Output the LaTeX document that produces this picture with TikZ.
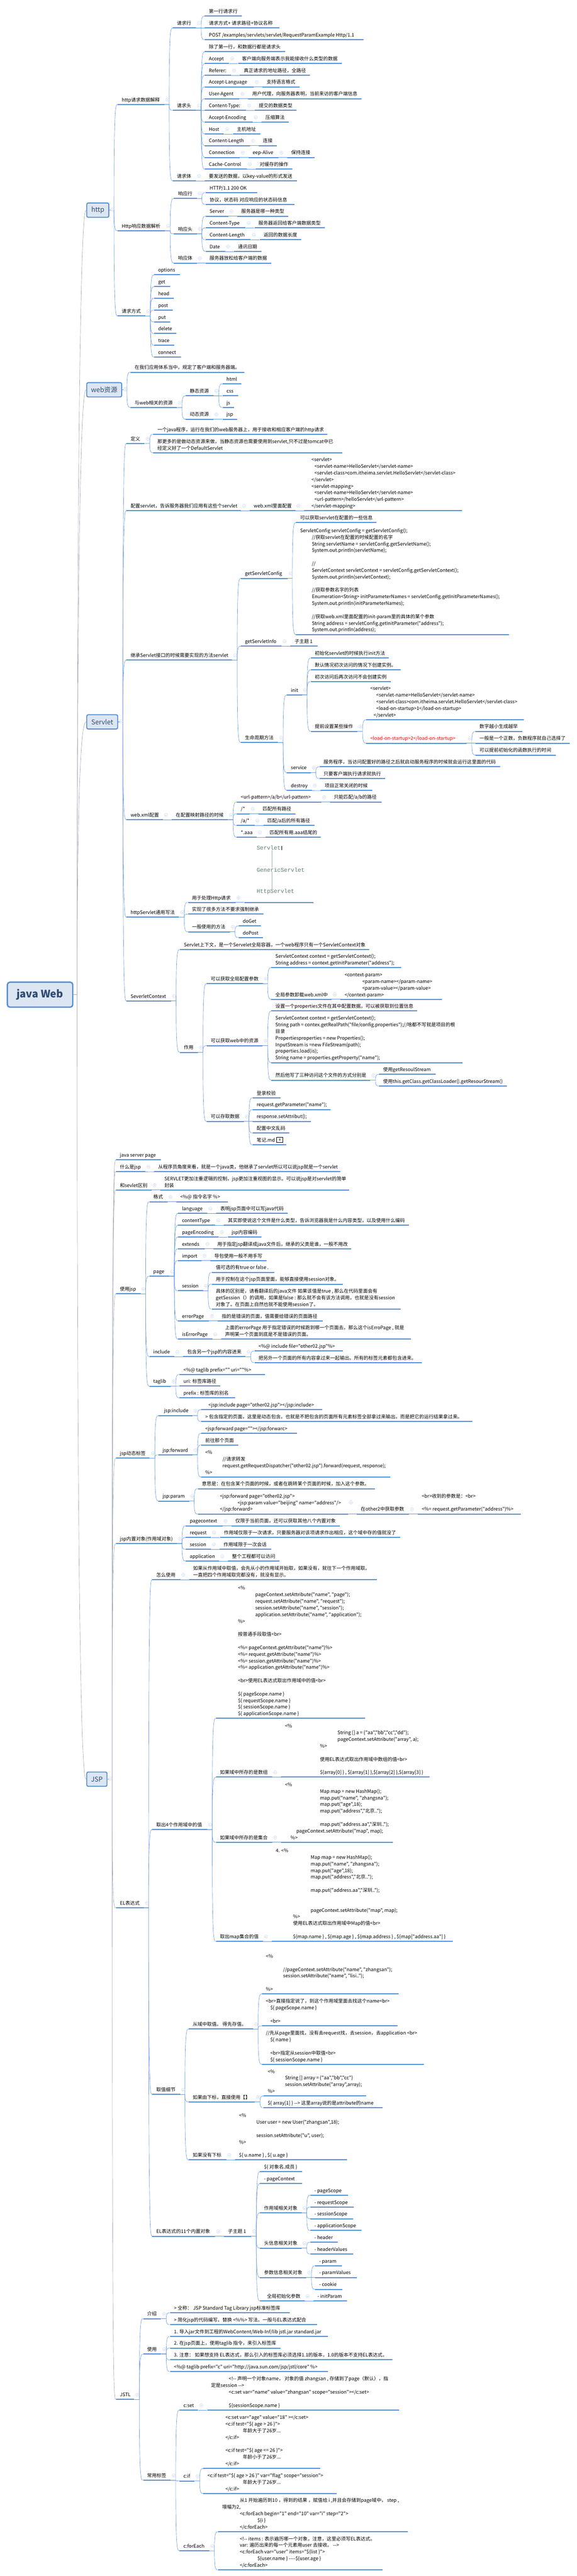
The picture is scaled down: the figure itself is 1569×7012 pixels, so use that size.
\documentclass[tikz,border=0pt]{standalone}
\usepackage{fontspec}
\newfontfamily\cjk{Noto Sans CJK SC}
\newfontfamily\monof{Liberation Mono}
\definecolor{barblue}{HTML}{558ED5}
\definecolor{linkblue}{HTML}{6A9BE0}
\definecolor{linkgrey}{HTML}{A3A9B5}
\definecolor{boxfill}{HTML}{DCE6F2}
\definecolor{boxtext}{HTML}{2F4B73}
\definecolor{foldc}{HTML}{C3D2EF}
\definecolor{imgtext}{HTML}{5E7D6B}
\tikzset{
  topicbar/.style={fill=barblue,inner sep=0pt,minimum height=2.8pt},
  topictext/.style={inner sep=0pt,font=\cjk\fontsize{13}{18}\selectfont,text=black},
  link/.style={draw=linkblue,line width=0.9pt},
  linkg/.style={draw=linkgrey,line width=0.9pt},
  l1box/.style={draw=barblue,fill=boxfill,line width=2.6pt,rounded corners=4pt,inner sep=0pt,text=boxtext,font=\cjk\fontsize{18}{22}\selectfont},
  rootbox/.style={draw=barblue,fill=boxfill,line width=3.6pt,rounded corners=7pt,inner sep=0pt,text=boxtext,font=\cjk\bfseries\fontsize{28}{32}\selectfont},
  foldicon/.style={circle,draw=foldc,fill=white,line width=0.7pt,minimum size=9pt,inner sep=0pt,
    path picture={\draw[foldc,line width=0.7pt] ([xshift=2.5pt]path picture bounding box.west) -- ([xshift=-2.5pt]path picture bounding box.east);}},
  imgt/.style={inner sep=0pt,anchor=west,font=\monof\fontsize{15.5}{18}\selectfont,text=imgtext},
}
\def\zoff{0}\def\zk{0.38265}\def\gap{10pt}
\newcommand\Zc[2]{\def\zoff{#1}\def\zk{#2}}
\newcommand\Ind[1]{\hspace*{#1pt}}
\newcommand\Tn[5]{%
  \pgfmathsetmacro\ty{-(\zoff+#4*\zk)}%
  \pgfmathsetmacro\tw{#3-#2}%
  \node[topicbar,minimum width=\tw pt,anchor=west] (#1) at (#2,\ty) {};
  \node[topictext,anchor=base west] (#1-t) at (#2+11,\ty+8) {\begin{tabular}[b]{@{}l@{}}#5\end{tabular}};
}
\newcommand\Cn[3][link]{%
  \foreach \cc in {#3}{%
    \draw[#1] (#2.east) -- ([xshift=-\gap]\cc.west |- #2.east) .. controls ([xshift=-\gap]\cc.west) and ([xshift=-6pt]\cc.west) .. (\cc.west);
  }%
  \node[foldicon] (#2-i) at ([xshift=8pt,yshift=1.4pt]#2.east |- #2-t.center) {};
}
\begin{document}
\begin{tikzpicture}[x=1pt,y=1pt]
\path[fill=white,use as bounding box] (0,0) rectangle (1569,-7012);

% first levels
\node[rootbox,minimum width=178pt,minimum height=68pt] (root) at (109,-2707.5) {java Web};
\node[l1box,minimum width=60pt,minimum height=39pt] (http) at (266,-572) {http};
\coordinate (http-t) at (http.center);
\node[l1box,minimum width=95pt,minimum height=39pt] (web) at (283.5,-1061) {web资源};
\coordinate (web-t) at (web.center);
\node[l1box,minimum width=84pt,minimum height=39pt] (srv) at (278,-1965) {Servlet};
\coordinate (srv-t) at (srv.center);
\node[l1box,minimum width=55pt,minimum height=39pt] (jsp) at (263.5,-4843) {JSP};
\coordinate (jsp-t) at (jsp.center);

% ---------- crop 1
\Zc{0}{0.38265}
\Tn{ha}{320}{447}{743}{http请求数据解释}
\Tn{reql}{470}{533}{199}{请求行}
\Tn{reqh}{470}{533}{785}{请求头}
\Tn{reqb}{470}{533}{1287}{请求体}
\Tn{rl1}{557}{658}{115}{第一行请求行}
\Tn{rl2}{557}{760}{199}{请求方式+ 请求路径+协议名称}
\Tn{rl3}{557}{988}{283}{POST  /examples/servlets/servlet/RequestParamExample  Http/1.1}
\Tn{rh0}{557}{775}{367}{除了第一行，和数据行都是请求头}
\Tn{rh1}{557}{623}{451}{Accept}
\Tn{rh1a}{647}{929}{451}{客户端向服务端表示我能接收什么类型的数据}
\Tn{rh2}{557}{628}{535}{Referer:}
\Tn{rh2a}{652}{843}{535}{真正请求的地址路径，全路径}
\Tn{rh3}{557}{690}{618}{Accept-Language}
\Tn{rh3a}{714}{814}{618}{支持语言格式}
\Tn{rh4}{557}{651}{702}{User-Agent}
\Tn{rh4a}{675}{983}{702}{用户代理，向服务器表明，当前来访的客户端信息}
\Tn{rh5}{557}{669}{786}{Content-Type:}
\Tn{rh5a}{693}{806}{786}{提交的数据类型}
\Tn{rh6}{557}{687}{869}{Accept-Encoding}
\Tn{rh6a}{711}{785}{869}{压缩算法}
\Tn{rh7}{557}{609}{953}{Host}
\Tn{rh7a}{633}{708}{953}{主机地址}
\Tn{rh8}{557}{680}{1036}{Content-Length}
\Tn{rh8a}{704}{753}{1036}{连接}
\Tn{rh9}{557}{652}{1120}{Connection}
\Tn{rh9a}{676}{757}{1120}{eep-Alive}
\Tn{rh9b}{781}{855}{1120}{保持连接}
\Tn{rh10}{557}{671}{1203}{Cache-Control}
\Tn{rh10a}{695}{795}{1203}{对缓存的操作}
\Tn{rb1}{557}{807}{1287}{要发送的数据，以key-value的形式发送}
\Tn{resl}{473}{535}{1412}{响应行}
\Tn{rsl1}{559}{699}{1370}{HTTP/1.1  200  OK}
\Tn{rsl2}{559}{801}{1454}{协议，状态码  对应响应的状态码信息}
\Tn{rs1}{559}{621}{1538}{Server}
\Tn{rs1a}{645}{784}{1538}{服务器是哪一种类型}

% ---------- crop 2
\Zc{600}{0.38265}
\Tn{hb}{320}{449}{74}{Http响应数据解析}
\Tn{resh}{473}{535}{95}{响应头}
\Tn{resb}{473}{535}{303}{响应体}
\Tn{rs2}{559}{668}{53}{Content-Type}
\Tn{rs2a}{692}{883}{53}{服务器返回给客户端数据类型}
\Tn{rs3}{559}{682}{137}{Content-Length}
\Tn{rs3a}{706}{819}{137}{返回的数据长度}
\Tn{rs4}{559}{612}{220}{Date}
\Tn{rs4a}{636}{711}{220}{通讯日期}
\Tn{rb2}{559}{738}{303}{服务器放松给客户端的数据}
\Tn{hc}{320}{395}{680}{请求方式}
\Tn{m1}{419}{489}{387}{options}
\Tn{m2}{419}{462}{471}{get}
\Tn{m3}{419}{473}{554}{head}
\Tn{m4}{419}{469}{638}{post}
\Tn{m5}{419}{463}{722}{put}
\Tn{m6}{419}{480}{805}{delete}
\Tn{m7}{419}{474}{889}{trace}
\Tn{m8}{419}{492}{973}{connect}
\Tn{wa}{355}{664}{1080}{在我们应用体系当中，规定了客户端和服务器端。}
\Tn{wb}{355}{481}{1331}{与web相关的资源}
\Tn{ws}{505}{580}{1247}{静态资源}
\Tn{wd}{505}{580}{1414}{动态资源}
\Tn{w1}{605}{656}{1163}{html}
\Tn{w2}{605}{647}{1247}{css}
\Tn{w3}{605}{637}{1331}{js}
\Tn{w4}{605}{645}{1414}{jsp}
\Tn{d1}{417}{891}{1521}{一个java程序，运行在我们的web服务器上，用于接收和相应客户端的http请求}

% ---------- crop 3
\Zc{1200}{0.38265}
\Tn{sdef}{344}{393}{19}{定义}
\Tn{d2}{417}{931}{85}{那更多的是做动态资源来做，当静态资源也需要使用到servlet,只不过是tomcat中已\\经定义好了一个DefaultServlet}
\Tn{scfg}{344}{655}{497}{配置servlet，告诉服务器我们应用有这些个servlet}
\Tn{sxml}{679}{803}{497}{web.xml里面配置}
\Tn{sxc}{827}{1256}{497}{\Ind{9}<servlet>\\\Ind{17}<servlet-name>HelloServlet</servlet-name>\\\Ind{17}<servlet-class>com.itheima.servlet.HelloServlet</servlet-class>\\\Ind{9}</servlet>\\\Ind{9}<servlet-mapping>\\\Ind{17}<servlet-name>HelloServlet</servlet-name>\\\Ind{17}<url-pattern>/helloServlet</url-pattern>\\\Ind{9}</servlet-mapping>}
\Tn{simp}{344}{631}{1560}{继承Servlet接口的时候需要实现的方法servlet}
\Tn{gsc}{655}{782}{978}{getServletConfig}
\Tn{gsc1}{805}{1024}{581}{可以获取servlet在配置的一些信息}
\Tn{gsc2}{805}{1384}{1378}{ServletConfig servletConfig = getServletConfig();\\\Ind{32}//获取servlet在配置的时候配置的名字\\\Ind{32}String servletName = servletConfig.getServletName();\\\Ind{32}System.out.println(servletName);\\ \\\Ind{32}//\\\Ind{32}ServletContext servletContext = servletConfig.getServletContext();\\\Ind{32}System.out.println(servletContext);\\ \\\Ind{32}//获取参数名字的列表\\\Ind{32}Enumeration<String> initParameterNames = servletConfig.getInitParameterNames();\\\Ind{32}System.out.println(initParameterNames);\\ \\\Ind{32}//获取web.xml里面配置的init-param里的具体的某个参数\\\Ind{32}String address = servletConfig.getInitParameter("address");\\\Ind{32}System.out.println(address);}
\Tn{gsi}{655}{766}{1461}{getServletInfo}
\Tn{gsi1}{790}{863}{1461}{子主题 1}
\Tn{in1}{845}{1057}{1545}{初始化servlet的时候执行init方法}

% ---------- crop 4
\Zc{1800}{0.38265}
\Tn{life}{655}{756}{578}{生命周期方法}
\Tn{init}{780}{821}{239}{init}
\Tn{in2}{845}{1089}{61}{默认情况初次访问的情况下创建实例。}
\Tn{in3}{845}{1063}{145}{初次访问后再次访问不会创建实例}
\Tn{in4}{845}{972}{499}{提前设置某些操作}
\Tn{in4a}{996}{1425}{416}{<servlet>\\\Ind{16}<servlet-name>HelloServlet</servlet-name>\\\Ind{16}<servlet-class>com.itheima.servlet.HelloServlet</servlet-class>\\\Ind{16}<load-on-startup>1</load-on-startup>\\\Ind{9}</servlet>}
\Tn{in4b}{996}{1269}{583}{\textcolor{red}{<load-on-startup>2</load-on-startup>}}
\Tn{los1}{1293}{1420}{499}{数字越小生成越早}
\Tn{los2}{1293}{1550}{583}{一般是一个正数，负数程序就自己选择了}
\Tn{los3}{1293}{1511}{667}{可以提前初始化的函数执行的时间}
\Tn{svc}{780}{845}{792}{service}
\Tn{svc1}{869}{1360}{750}{服务程序，当访问配置好的路径之后就启动服务程序的时候就会运行这里面的代码}
\Tn{svc2}{869}{1048}{834}{只要客户端执行请求就执行}
\Tn{des}{780}{848}{918}{destroy}
\Tn{des1}{872}{1012}{918}{项目正常关闭的时候}
\Tn{sw}{344}{443}{1127}{web.xml配置}
\Tn{swm}{467}{620}{1127}{在配置映射路径的时候}
\Tn{up1}{644}{873}{1001}{<url-pattern>/a/b</url-pattern>}
\Tn{up1a}{897}{1038}{1001}{只能匹配/a/b的路径}
\Tn{up2}{644}{679}{1085}{/*}
\Tn{up2a}{703}{803}{1085}{匹配所有路径}
\Tn{up3}{644}{692}{1168}{/a/*}
\Tn{up3a}{716}{855}{1168}{匹配/a后的所有路径}
\Tn{up4}{644}{698}{1252}{*.aaa}
\Tn{up4a}{722}{872}{1252}{匹配所有用.aaa结尾的}
% picture above the "httpServlet" branch
\node[imgt] (img1) at (698,-2308) {Servlet};
\node[imgt] (img2) at (698,-2367.5) {GenericServlet};

% ---------- crop 5
\Zc{2400}{0.38265}
\node[imgt] (img3) at (698,-2427) {HttpServlet};
\Tn{shs}{344}{487}{252}{httpServlet通用写法}
\Tn{shs1}{511}{640}{148}{用于处理Http请求}
\Tn{shs1a}{664}{853}{148}{\mbox{}}
\Tn{shs2}{511}{716}{231}{实现了很多方法不要求强制继承}
\Tn{shs3}{511}{625}{356}{一般使用的方法}
\Tn{dog}{649}{710}{315}{doGet}
\Tn{dop}{649}{715}{398}{doPost}
\Tn{sc}{344}{465}{848}{SeverletContext}
\Tn{sc1}{489}{1004}{482}{Servlet上下文，是一个Servelet全局容器，一个web程序只有一个ServletContext对象}
\Tn{sc2}{489}{538}{1214}{作用}
\Tn{ga}{562}{715}{725}{可以获取全局配置参数}
\Tn{gb}{562}{714}{1166}{可以获取web中的资源}
\Tn{ga1}{738}{1091}{612}{ServletContext context = getServletContext();\\String address = context.getInitParameter("address");}
\Tn{ga2}{738}{902}{837}{全局参数卸载web.xml中}
\Tn{ga2a}{926}{1201}{837}{<context-param>\\\Ind{48}<param-name></param-name>\\\Ind{48}<param-value></param-value>\\</context-param>}
\Tn{gb1}{738}{1134}{920}{设置一个properties文件在其中配置数据，可以被获取到位置信息}
\Tn{gb2}{738}{1258}{1287}{ServletContext context = getServletContext();\\String path = contex.getRealPath("file/config.properties");//啥都不写就是项目的根\\目录\\Propertiesproperties = new Properties();\\InputStream  is  =new FileStream(path);\\properties.load(is);\\String name = properties.getProperty("name");}
\Tn{gb3}{738}{1007}{1412}{然后他写了三种访问这个文件的方式分别是}
\Tn{gb3a}{1031}{1185}{1370}{使用getResoulStream}
\Tn{gb3b}{1031}{1378}{1454}{使用this.getClass.getClassLoader().getResourStream()}
\Tn{gc1}{687}{762}{1537}{登录校验}

% ---------- crop 6
\Zc{3000}{0.38265}
\Tn{gc}{562}{663}{137}{可以存取数据}
\Tn{gc2}{687}{899}{53}{request.getParameter("name");}
\Tn{gc3}{687}{845}{137}{response.setAttribut();}
\Tn{gc4}{687}{787}{220}{配置中文乱码}
\Tn{gc5}{687}{778}{304}{笔记.md}
\node[draw=black,fill=white,line width=0.8pt,minimum width=17pt,minimum height=14pt,inner sep=0pt] (gc5icon) at (761,-3102) {};
\node[fill=black!45,minimum width=4pt,minimum height=6pt,inner sep=0pt] (gc5glyph) at (gc5icon.center) {};
\Tn{j1}{315}{438}{411}{java server page}
\Tn{j2}{315}{395}{494}{什么是jsp}
\Tn{j2a}{419}{926}{494}{从程序员角度来看，就是一个java类，他继承了servlet所以可以说jsp就是一个servlet}
\Tn{j3}{315}{412}{625}{和sevlet区别}
\Tn{j3a}{436}{949}{625}{SERVLET更加注重逻辑的控制，jsp更加注重视图的显示。可以说jsp是对servlet的简单\\封装}
\Tn{j4}{315}{382}{1364}{使用jsp}
\Tn{fm}{406}{455}{709}{格式}
\Tn{fma}{479}{619}{709}{<\%@ 指令名字 \%>}
\Tn{pg}{406}{460}{1239}{page}
\Tn{p1}{484}{564}{792}{language}
\Tn{p1a}{588}{782}{792}{表明jsp页面中可以写java代码}
\Tn{p2}{484}{585}{876}{contentType}
\Tn{p2a}{609}{1112}{876}{其实即使说这个文件是什么类型，告诉浏览器我是什么内容类型，以及使用什么编码}
\Tn{p3}{484}{595}{959}{pageEncoding}
\Tn{p3a}{619}{711}{959}{jsp内容编码}
\Tn{p4}{484}{556}{1043}{extends}
\Tn{p4a}{580}{955}{1043}{用于指定jsp翻译成java文件后，继承的父类是谁，一般不用改}
\Tn{p5}{484}{548}{1127}{import}
\Tn{p5a}{572}{725}{1127}{导包使用一般不用手写}
\Tn{p6}{484}{552}{1342}{session}
\Tn{p6a}{576}{746}{1211}{值可选的有true or false .}
\Tn{p6b}{576}{932}{1295}{用于控制在这个jsp页面里面，能够直接使用session对象。}
\Tn{p6c}{576}{1090}{1473}{具体的区别是，请看翻译后的java文件  如果该值是true , 那么在代码里面会有\\getSession（）的调用，如果是false : 那么就不会有该方法调用，也就是没有session\\对象了。在页面上自然也就不能使用session了。}
\Tn{p7}{484}{568}{1556}{errorPage}
\Tn{p7a}{592}{878}{1556}{指的是错误的页面，值需要给错误的页面路径}

% ---------- crop 7
\Zc{3600}{0.38265}
\Tn{p8}{484}{577}{118}{isErrorPage}
\Tn{p8a}{601}{1117}{118}{上面的errorPage 用于指定错误的时候跑到哪一个页面去。那么这个isErroPage , 就是\\声明某一个页面到底是不是错误的页面。}
\Tn{inc}{406}{474}{243}{include}
\Tn{inca}{498}{668}{243}{包含另一个jsp的内容进来}
\Tn{inc1}{692}{932}{202}{<\%@ include file="other02.jsp"\%>}
\Tn{inc2}{692}{1147}{285}{把另外一个页面的所有内容拿过来一起输出。所有的标签元素都包含进来。}
\Tn{tl}{406}{464}{453}{taglib}
\Tn{tl1}{488}{721}{369}{<\%@ taglib prefix=""  uri=""\%>}
\Tn{tl2}{488}{599}{452}{uri: 标签库路径}
\Tn{tl3}{488}{639}{536}{prefix : 标签库的别名}
\Tn{j5}{315}{407}{965}{jsp动态标签}
\Tn{ji}{431}{523}{662}{\Ind{4}jsp:include}
\Tn{ji1}{547}{876}{620}{\Ind{9}<jsp:include page="other02.jsp"></jsp:include>}
\Tn{ji2}{547}{1284}{704}{> 包含指定的页面，这里是动态包含。也就是不把包含的页面所有元素标签全部拿过来输出，而是把它的运行结果拿过来。}
\Tn{jf}{431}{523}{941}{jsp:forward}
\Tn{jf1}{547}{807}{788}{<jsp:forward page=""></jsp:forwarc>}
\Tn{jf2}{547}{648}{871}{前往那个页面}
\Tn{jf3}{547}{1061}{1099}{<\%\\\Ind{47}//请求转发\\\Ind{47}request.getRequestDispatcher("other02.jsp").forward(request, response);\\\%>}
\Tn{jp}{431}{514}{1270}{jsp:param}
\Tn{jp1}{538}{1019}{1182}{意思是：在包含某个页面的时候，或者在跳转某个页面的时候，加入这个参数。}
\Tn{jp2}{538}{946}{1362}{\Ind{49}<jsp:forward page="other02.jsp">\\\Ind{97}<jsp:param value="beijing" name="address"/>\\\Ind{49}</jsp:forward>}
\Tn{jp2a}{970}{1112}{1362}{在other2中获取参数}
\Tn{jp2b}{1136}{1416}{1362}{<br>收到的参数是：<br>\\ \\<\%= request.getParameter("address")\%>}
\Tn{o1}{505}{605}{1446}{pagecontext}
\Tn{o1a}{629}{924}{1446}{仅限于当前页面，还可以获取其他八个内置对象}
\Tn{o2}{505}{574}{1529}{request}
\Tn{o2a}{598}{1088}{1529}{作用域仅限于一次请求，只要服务器对该项请求作出相应，这个域中存的值就没了}

% ---------- crop 8
\Zc{4200}{0.38265}
\Tn{j6}{315}{481}{4}{jsp内置对象(作用域对象)}
\Tn{o3}{505}{573}{45}{session}
\Tn{o3a}{597}{737}{45}{作用域限于一次会话}
\Tn{o4}{505}{596}{129}{application}
\Tn{o4a}{620}{760}{129}{整个工程都可以访问}
\Tn{eu}{414}{490}{260}{怎么使用}
\Tn{eua}{514}{1025}{260}{如果从作用域中取值，会先从小的作用域开始取，如果没有，就往下一个作用域取。\\一直把四个作用域取完都没有，就没有显示。}
\Tn{ev1}{587}{992}{1248}{\Ind{49}<\%\\\Ind{96}pageContext.setAttribute("name", "page");\\\Ind{96}request.setAttribute("name", "request");\\\Ind{96}session.setAttribute("name", "session");\\\Ind{96}application.setAttribute("name", "application");\\\Ind{49}\%>\\ \\\Ind{49}按普通手段取值<br>\\ \\\Ind{49}<\%= pageContext.getAttribute("name")\%>\\\Ind{49}<\%= request.getAttribute("name")\%>\\\Ind{49}<\%= session.getAttribute("name")\%>\\\Ind{49}<\%= application.getAttribute("name")\%>\\ \\\Ind{49}<br>使用EL表达式取出作用域中的值<br>\\ \\\Ind{49}\$\{ pageScope.name \}\\\Ind{49}\$\{ requestScope.name \}\\\Ind{49}\$\{ sessionScope.name \}\\\Ind{49}\$\{ applicationScope.name \}}

% ---------- crop 9
\Zc{4800}{0.38265}
\Tn{j7}{315}{391}{1027}{EL表达式}
\Tn{ev}{414}{563}{471}{取出4个作用域中的值}
\Tn{ev2}{587}{740}{98}{如果域中所存的是数组}
\Tn{ev2a}{764}{1168}{98}{<\%\\\Ind{143}String [] a = \{"aa","bb","cc","dd"\};\\\Ind{143}pageContext.setAttribute("array", a);\\\Ind{95}\%>\\ \\\Ind{95}使用EL表达式取出作用域中数组的值<br>\\ \\\Ind{95}\$\{array[0] \} , \$\{array[1] \},\$\{array[2] \},\$\{array[3] \}}
\Tn{ev3}{587}{740}{561}{如果域中所存的是集合}
\Tn{ev3a}{764}{1068}{561}{<\%\\\Ind{95}Map map = new HashMap();\\\Ind{95}map.put("name", "zhangsna");\\\Ind{95}map.put("age",18);\\\Ind{95}map.put("address","北京..");\\ \\\Ind{95}map.put("address.aa","深圳..");\\\Ind{31}pageContext.setAttribute("map", map);\\\Ind{15}\%>}
\Tn{ev4}{587}{715}{1266}{取出map集合的值}
\Tn{ev4a}{739}{1231}{1266}{4. <\%\\\Ind{95}Map map = new HashMap();\\\Ind{95}map.put("name", "zhangsna");\\\Ind{95}map.put("age",18);\\\Ind{95}map.put("address","北京..");\\ \\\Ind{95}map.put("address.aa","深圳..");\\ \\ \\\Ind{95}pageContext.setAttribute("map", map);\\\Ind{47}\%>\\\Ind{47}使用EL表达式取出作用域中Map的值<br>\\ \\\Ind{47}\$\{map.name \} , \$\{map.age \} , \$\{map.address \} , \$\{map["address.aa"] \}}

% ---------- crop 10
\Zc{5400}{0.38265}
\Tn{ed}{414}{490}{787}{取值细节}
\Tn{ed1}{513}{688}{322}{从域中取值。  得先存值。}
\Tn{ed1a}{712}{1084}{72}{<\%\\ \\\Ind{47}//pageContext.setAttribute("name", "zhangsan");\\\Ind{47}session.setAttribute("name", "lisi..");\\ \\\%>}
\Tn{ed1b}{712}{1081}{299}{<br>直接指定说了，到这个作用域里面去找这个name<br>\\\Ind{12}\$\{ pageScope.name \}\\ \\\Ind{12}<br>}
\Tn{ed1c}{712}{1152}{573}{//先从page里面找，没有去request找，去session，去application <br>\\\Ind{12}\$\{ name \}\\ \\\Ind{12}<br>指定从session中取值<br>\\\Ind{12}\$\{ sessionScope.name \}}
\Tn{ed2}{513}{693}{840}{如果由下标，直接使用【】}
\Tn{ed2a}{717}{996}{798}{<\%\\\Ind{47}String [] array = \{"aa","bb","cc"\}\\\Ind{47}session.setAttribute("array",array);\\\%>}
\Tn{ed2b}{717}{1040}{882}{\$\{ array[1] \} --> 这里array说的是attribute的name}
\Tn{ed3}{513}{615}{1253}{如果没有下标}
\Tn{ed3a}{639}{943}{1253}{<\%\\\Ind{47}User user = new User("zhangsan",18);\\ \\\Ind{47}session.setAttribute("u", user);\\\%>\\ \\\$\{ u.name \} , \$\{ u.age \}}
\Tn{eo1}{707}{822}{1337}{\$\{ 对象名.成员 \}}
\Tn{eo2}{707}{822}{1420}{- pageContext}
\Tn{sc1x}{844}{946}{1504}{- pageScope}

% ---------- crop 11
\Zc{6000}{0.38265}
\Tn{eb}{414}{585}{228}{EL表达式的11个内置对象}
\Tn{ebs}{609}{683}{228}{子主题 1}
\Tn{eo3}{707}{820}{61}{作用域相关对象}
\Tn{sc2x}{844}{962}{20}{- requestScope}
\Tn{sc3x}{844}{960}{103}{- sessionScope}
\Tn{sc4x}{844}{983}{187}{- applicationScope}
\Tn{eo4}{707}{820}{312}{头信息相关对象}
\Tn{hd1}{844}{919}{270}{- header}
\Tn{hd2}{844}{960}{354}{- headerValues}
\Tn{eo5}{707}{833}{521}{参数信息相关对象}
\Tn{pa1}{857}{930}{438}{- param}
\Tn{pa2}{857}{970}{521}{- paramValues}
\Tn{pa3}{857}{931}{605}{- cookie}
\Tn{eo6}{707}{828}{688}{\Ind{8}全局初始化参数}
\Tn{eo6a}{852}{944}{688}{- initParam}
\Tn{j8}{315}{365}{1389}{JSTL}
\Tn{js1}{389}{438}{814}{介绍}
\Tn{js1a}{462}{788}{772}{> 全称： JSP Standard Tag Library  jsp标准标签库}
\Tn{js1b}{462}{862}{856}{> 简化jsp的代码编写。替换 <\%\%> 写法。一般与EL表达式配合}
\Tn{js2}{389}{438}{1065}{使用}
\Tn{js2a}{462}{892}{940}{1. 导入jar文件到工程的WebContent/Web-Inf/lib  jstl.jar standard.jar}
\Tn{js2b}{462}{763}{1023}{2. 在jsp页面上，使用taglib 指令，来引入标签库}
\Tn{js2c}{462}{1067}{1107}{3. 注意： 如果想支持 EL表达式，那么引入的标签库必须选择1.1的版本，1.0的版本不支持EL表达式。}
\Tn{js2d}{462}{892}{1190}{<\%@ taglib prefix="c" uri="http://java.sun.com/jsp/jstl/core" \%>}
\Tn{cset}{488}{539}{1464}{c:set}
\Tn{cseta}{563}{1085}{1464}{\Ind{48}<!-- 声明一个对象name， 对象的值 zhangsan , 存储到了page（默认），指\\定是session -->\\\Ind{48}<c:set var="name" value="zhangsan" scope="session"></c:set>\\ \\\Ind{48}\$\{sessionScope.name \}}

% ---------- crop 12
\Zc{6600}{0.33333}
\Tn{js3}{389}{464}{454}{常用标签}
\Tn{cif}{488}{529}{460}{c:if}
\Tn{cifa}{553}{870}{358}{\Ind{49}<c:set var="age" value="18" ></c:set>\\\Ind{49}<c:if test="\$\{ age > 26 \}">\\\Ind{96}年龄大于了26岁...\\\Ind{49}</c:if>\\ \\\Ind{49}<c:if test="\$\{ age <= 26 \}">\\\Ind{96}年龄小于了26岁...\\\Ind{49}</c:if>}
\Tn{cifb}{553}{916}{562}{<c:if test="\$\{ age > 26 \}" var="flag" scope="session">\\\Ind{96}年龄大于了26岁...\\\Ind{49}</c:if>}
\Tn{cfe}{488}{569}{1030}{c:forEach}
\Tn{cfea}{593}{1109}{874}{\Ind{48}从1 开始遍历到10 ，得到的结果 ，赋值给 i ,并且会存储到page域中， step ,\\增幅为2,\\\Ind{48}<c:forEach begin="1" end="10" var="i" step="2">\\\Ind{96}\$\{i \}\\\Ind{48}</c:forEach>}
\Tn{cfeb}{593}{1041}{1186}{\Ind{48}<!-- items : 表示遍历哪一个对象，注意，这里必须写EL表达式。\\\Ind{48}var: 遍历出来的每一个元素用user 去接收。 -->\\\Ind{48}<c:forEach var="user" items="\$\{list \}">\\\Ind{96}\$\{user.name \} ----\$\{user.age \}\\\Ind{48}</c:forEach>}

% picture marks
\draw[imgtext!60,line width=0.9pt] (740,0 |- img1.south) -- (740,0 |- img2.north);
\draw[imgtext!60,line width=0.9pt] (740,0 |- img2.south) -- (740,0 |- img3.north);
\draw[black,line width=0.9pt] ([xshift=2pt]img1.south east) -- ([xshift=2pt]img1.north east);

% ---------- connectors
\def\gap{25pt}
\foreach \cc in {http,web,srv,jsp}{
  \draw[linkg] (root.east) -- ([xshift=-\gap]\cc.west |- root.east) .. controls ([xshift=-\gap]\cc.west) and ([xshift=-6pt]\cc.west) .. (\cc.west);
}
\def\gap{10pt}
\Cn{http}{ha,hb,hc}
\Cn{ha}{reql,reqh,reqb}
\Cn{reql}{rl1,rl2,rl3}
\Cn{reqh}{rh0,rh1,rh2,rh3,rh4,rh5,rh6,rh7,rh8,rh9,rh10}
\Cn{rh1}{rh1a}\Cn{rh2}{rh2a}\Cn{rh3}{rh3a}\Cn{rh4}{rh4a}\Cn{rh5}{rh5a}\Cn{rh6}{rh6a}\Cn{rh7}{rh7a}\Cn{rh8}{rh8a}\Cn{rh9}{rh9a}\Cn{rh9a}{rh9b}\Cn{rh10}{rh10a}
\Cn{reqb}{rb1}
\Cn{hb}{resl,resh,resb}
\Cn{resl}{rsl1,rsl2}
\Cn{resh}{rs1,rs2,rs3,rs4}
\Cn{rs1}{rs1a}\Cn{rs2}{rs2a}\Cn{rs3}{rs3a}\Cn{rs4}{rs4a}
\Cn{resb}{rb2}
\Cn{hc}{m1,m2,m3,m4,m5,m6,m7,m8}
\Cn{web}{wa,wb}
\Cn{wb}{ws,wd}
\Cn{ws}{w1,w2,w3}
\Cn{wd}{w4}
\Cn{srv}{sdef,scfg,simp,sw,shs,sc}
\Cn{sdef}{d1,d2}
\Cn{scfg}{sxml}\Cn{sxml}{sxc}
\Cn{simp}{gsc,gsi,life}
\Cn{gsc}{gsc1,gsc2}
\Cn{gsi}{gsi1}
\Cn{life}{init,svc,des}
\Cn{init}{in1,in2,in3,in4}
\Cn{in4}{in4a,in4b}
\Cn{in4b}{los1,los2,los3}
\Cn{svc}{svc1,svc2}
\Cn{des}{des1}
\Cn{sw}{swm}
\Cn{swm}{up1,up2,up3,up4}
\Cn{up1}{up1a}\Cn{up2}{up2a}\Cn{up3}{up3a}\Cn{up4}{up4a}
\Cn{shs}{shs1,shs2,shs3}
\Cn{shs1}{shs1a}
\Cn{shs3}{dog,dop}
\Cn{sc}{sc1,sc2}
\Cn{sc2}{ga,gb,gc}
\Cn{ga}{ga1,ga2}
\Cn{ga2}{ga2a}
\Cn{gb}{gb1,gb2,gb3}
\Cn{gb3}{gb3a,gb3b}
\Cn{gc}{gc1,gc2,gc3,gc4,gc5}
\Cn[linkg]{jsp}{j1,j2,j3,j4,j5,j6,j7,j8}
\Cn{j2}{j2a}
\Cn{j3}{j3a}
\Cn{j4}{fm,pg,inc,tl}
\Cn{fm}{fma}
\Cn{pg}{p1,p2,p3,p4,p5,p6,p7,p8}
\Cn{p1}{p1a}\Cn{p2}{p2a}\Cn{p3}{p3a}\Cn{p4}{p4a}\Cn{p5}{p5a}\Cn{p7}{p7a}\Cn{p8}{p8a}
\Cn{p6}{p6a,p6b,p6c}
\Cn{inc}{inca}
\Cn{inca}{inc1,inc2}
\Cn{tl}{tl1,tl2,tl3}
\Cn{j5}{ji,jf,jp}
\Cn{ji}{ji1,ji2}
\Cn{jf}{jf1,jf2,jf3}
\Cn{jp}{jp1,jp2}
\Cn{jp2}{jp2a}\Cn{jp2a}{jp2b}
\Cn{j6}{o1,o2,o3,o4}
\Cn{o1}{o1a}\Cn{o2}{o2a}\Cn{o3}{o3a}\Cn{o4}{o4a}
\Cn{j7}{eu,ev,ed,eb}
\Cn{eu}{eua}
\Cn{ev}{ev1,ev2,ev3,ev4}
\Cn{ev2}{ev2a}\Cn{ev3}{ev3a}\Cn{ev4}{ev4a}
\Cn{ed}{ed1,ed2,ed3}
\Cn{ed1}{ed1a,ed1b,ed1c}
\Cn{ed2}{ed2a,ed2b}
\Cn{ed3}{ed3a}
\Cn{eb}{ebs}
\Cn{ebs}{eo1,eo2,eo3,eo4,eo5,eo6}
\Cn{eo3}{sc1x,sc2x,sc3x,sc4x}
\Cn{eo4}{hd1,hd2}
\Cn{eo5}{pa1,pa2,pa3}
\Cn{eo6}{eo6a}
\Cn{j8}{js1,js2,js3}
\Cn{js1}{js1a,js1b}
\Cn{js2}{js2a,js2b,js2c,js2d}
\Cn{js3}{cset,cif,cfe}
\Cn{cset}{cseta}
\Cn{cif}{cifa,cifb}
\Cn{cfe}{cfea,cfeb}
\end{tikzpicture}
\end{document}
